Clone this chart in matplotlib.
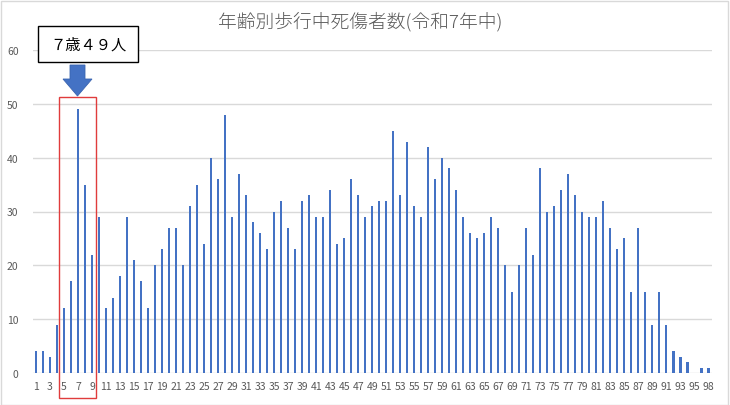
import numpy as np
import matplotlib.pyplot as plt
from matplotlib.patches import Rectangle, Polygon

plt.rcParams['font.family'] = ['Noto Sans CJK JP', 'DejaVu Sans']

# ages (category labels) and casualties per age
ages = [str(a) for a in range(1, 97)] + ['98']
counts = [4, 4, 3, 9, 12, 17, 49, 35, 22, 29,
          12, 14, 18, 29, 21, 17, 12, 20, 23, 27,
          27, 20, 31, 35, 24, 40, 36, 48, 29, 37,
          33, 28, 26, 23, 30, 32, 27, 23, 32, 33,
          29, 29, 34, 24, 25, 36, 33, 29, 31, 32,
          32, 45, 33, 43, 31, 29, 42, 36, 40, 38,
          34, 29, 26, 25, 26, 29, 27, 20, 15, 20,
          27, 22, 38, 30, 31, 34, 37, 33, 30, 29,
          29, 32, 27, 23, 25, 15, 27, 15, 9, 15,
          9, 4, 3, 2, 0, 1, 1]

title = '年齢別歩行中死傷者数(令和7年中)'
note = '７歳４９人'
yticks = [0, 10, 20, 30, 40, 50, 60]

W, H = 730, 406
fig = plt.figure(figsize=(W / 100, H / 100), dpi=100)


def px(x, y):
    # pixel position (from top-left) -> figure fraction
    return (x / W, 1 - y / H)


ax = fig.add_axes([32.5 / W, 32 / H, 679.5 / W, 323 / H])
x = np.arange(len(ages))
ax.bar(x, counts, width=0.295, color='#4472C4', zorder=3)

ax.set_xlim(-0.5, len(ages) - 0.5)
ax.set_ylim(0, 60)
ax.set_yticks(yticks)
ax.set_xticks(x[::2])
ax.set_xticklabels(ages[::2])
ax.tick_params(axis='both', length=0, labelsize=7.5, colors='#595959')
ax.tick_params(axis='x', pad=6)
ax.tick_params(axis='y', pad=10)
ax.grid(axis='y', color='#D9D9D9', linewidth=1, zorder=0)
for s in ax.spines.values():
    s.set_visible(False)

fig.text(px(360, 22)[0], px(360, 22)[1], title, ha='center', va='center',
         fontsize=13.5, color='#595959', fontweight='light')

# outer chart border
fig.patches.append(Rectangle((0.5 / W, 0.5 / H), (W - 2.5) / W, (H - 2.5) / H,
                             transform=fig.transFigure, fill=False,
                             edgecolor='#D9D9D9', linewidth=1))

# red highlight box around ages 5-9
x0, y0 = px(59, 399)
x1, y1 = px(96, 98)
fig.patches.append(Rectangle((x0, y0), x1 - x0, y1 - y0, transform=fig.transFigure,
                             fill=False, edgecolor='#E03C3C', linewidth=1))

# blue down arrow
cx = 77.5
arrow_pts = [px(cx - 7.5, 66), px(cx + 7.5, 66), px(cx + 7.5, 80), px(cx + 14.5, 80),
             px(cx, 97), px(cx - 14.5, 80), px(cx - 7.5, 80)]
fig.patches.append(Polygon(arrow_pts, closed=True, transform=fig.transFigure,
                           facecolor='#4472C4', edgecolor='#3A64B0', linewidth=0.6))

# callout box
bx0, by0 = px(38, 63)
bx1, by1 = px(138, 27)
fig.patches.append(Rectangle((bx0, by0), bx1 - bx0, by1 - by0, transform=fig.transFigure,
                             facecolor='white', edgecolor='black', linewidth=1))
fig.text(px(88, 45)[0], px(88, 45)[1], note, ha='center', va='center',
         fontsize=11, color='black')

fig.savefig('out.png', dpi=100)
